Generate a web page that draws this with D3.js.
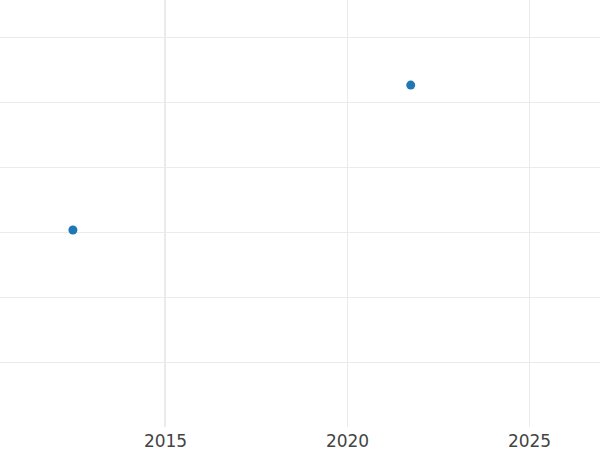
<!DOCTYPE html>
<html>
<head>
<meta charset="utf-8">
<style>
  body { margin: 0; background: #fff; }
  text { font-family: "DejaVu Sans", sans-serif; }
</style>
</head>
<body>
<svg width="600" height="450"></svg>
<script src="https://d3js.org/d3.v7.min.js"></script>
<script>
    // data
    var years = [2012.47, 2021.75];
    var values = [3.03, 5.26];
    var xTicks = [2015, 2020, 2025];
    var yTicks = [1, 2, 3, 4, 5, 6];

    var svg = d3.select("svg");
    var width = 600, plotBottom = 427;

    var x = d3.scaleLinear().domain([2010.467, 2026.95]).range([0, width]);
    var y = d3.scaleLinear().domain([0, 6]).range([plotBottom, 37]);

    // horizontal grid
    svg.append("g")
        .selectAll("line")
        .data(yTicks)
        .enter().append("line")
        .attr("x1", 0).attr("x2", width)
        .attr("y1", function(d) { return Math.round(y(d)) + 0.5; })
        .attr("y2", function(d) { return Math.round(y(d)) + 0.5; })
        .attr("stroke", "#ebebeb")
        .attr("stroke-width", 1);

    // vertical grid (first one heavier)
    svg.append("g")
        .selectAll("line")
        .data(xTicks)
        .enter().append("line")
        .attr("x1", function(d, i) { return Math.round(x(d)) + (i == 0 ? 0 : 0.5); })
        .attr("x2", function(d, i) { return Math.round(x(d)) + (i == 0 ? 0 : 0.5); })
        .attr("y1", 0).attr("y2", plotBottom)
        .attr("stroke", "#ebebeb")
        .attr("stroke-width", function(d, i) { return i == 0 ? 2 : 1; });

    var xAxis = svg.append("g")
        .attr("transform", "translate(0," + plotBottom + ")")
        .call(d3.axisBottom(x).tickValues(xTicks).tickFormat(d3.format("d")).tickSize(0).tickPadding(8));
    xAxis.select(".domain").remove();
    xAxis.selectAll("text")
        .attr("fill", "#444")
        .style("font-size", "17px")
        .style("font-family", "DejaVu Sans, sans-serif");

    svg.append("g")
        .selectAll("circle")
        .data(years)
        .enter().append("circle")
        .attr("cx", function(d) { return x(d); })
        .attr("cy", function(d, i) { return y(values[i]); })
        .attr("r", 4.5)
        .attr("fill", "#1f77b4");
</script>
</body>
</html>
